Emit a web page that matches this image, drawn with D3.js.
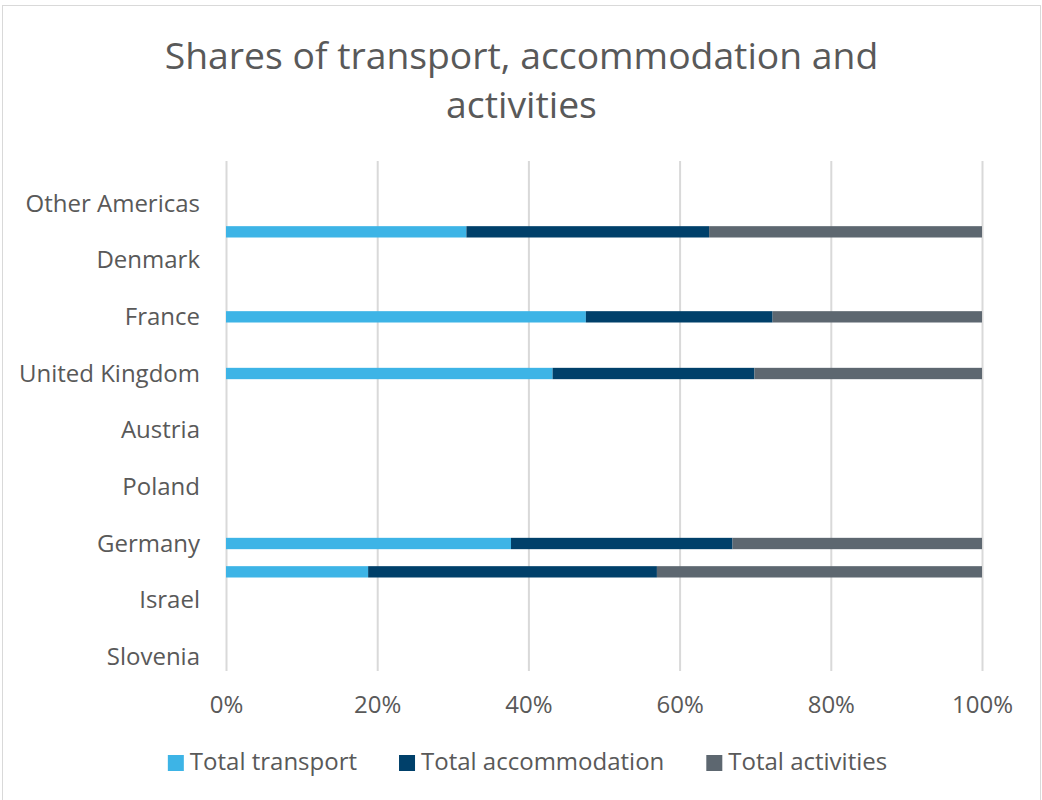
<!DOCTYPE html>
<html>
<head>
<meta charset="utf-8">
<script src="https://cdn.jsdelivr.net/npm/d3@7"></script>
<style>
  html, body { margin: 0; padding: 0; background: #ffffff; }
  svg { display: block; font-family: "Open Sans", "Noto Sans", sans-serif; }
</style>
</head>
<body>
<svg id="chart" width="1042" height="800"></svg>
<script>
// ---- Data (top-to-bottom order; "" = category whose label is not shown) ----
const categories = ["", "Other Americas", "", "Denmark", "", "France", "", "United Kingdom", "",
                    "Austria", "", "Poland", "", "Germany", "", "Israel", "", "Slovenia"];
const transport     = [null, null, 31.8, null, null, 47.6, null, 43.2, null, null, null, null, null, 37.7, 18.8, null, null, null];
const accommodation = [null, null, 32.1, null, null, 24.7, null, 26.7, null, null, null, null, null, 29.3, 38.2, null, null, null];
const activities    = [null, null, 36.1, null, null, 27.7, null, 30.1, null, null, null, null, null, 33.0, 43.0, null, null, null];
const seriesNames   = ["Total transport", "Total accommodation", "Total activities"];
const seriesColors  = ["#3db4e6", "#00406a", "#5d6770"];
const xTicks        = [0, 0.2, 0.4, 0.6, 0.8, 1.0];
const titleLines    = ["Shares of transport, accommodation and", "activities"];

const svg = d3.select("#chart");
const textColor = "#595959";
const gridColor = "#d9d9d9";

// background + chart border
svg.append("rect").attr("x", 0).attr("y", 0).attr("width", 1042).attr("height", 800).attr("fill", "#fff");
svg.append("rect").attr("x", 2.5).attr("y", 5.5).attr("width", 1038).attr("height", 800)
  .attr("fill", "none").attr("stroke", gridColor).attr("stroke-width", 1);

// title
svg.append("g").selectAll("text").data(titleLines).join("text")
  .attr("x", 521.5).attr("y", (d, i) => 68.5 + i * 49.5)
  .attr("text-anchor", "middle").attr("fill", textColor)
  .style("font-size", "37.3px").text(d => d);

// scales
const plot = { left: 226, right: 982, top: 161, bottom: 671 };
const x = d3.scaleLinear().domain([0, 1]).range([plot.left, plot.right]);
const idx = d3.range(categories.length);
const y = d3.scaleBand().domain(idx).range([plot.top, plot.bottom]).paddingInner(0.6).paddingOuter(0.3);

// gridlines
const grid = d3.axisBottom(x).tickValues(xTicks).tickSize(-(plot.bottom - plot.top)).tickFormat("");
svg.append("g").attr("transform", `translate(0,${plot.bottom})`).call(grid)
  .call(g => g.select(".domain").remove())
  .call(g => g.selectAll("line").attr("stroke", gridColor).attr("stroke-width", 2));

// x tick labels
const xAxis = d3.axisBottom(x).tickValues(xTicks).tickSize(0).tickPadding(0).tickFormat(d3.format(".0%"));
svg.append("g").attr("transform", `translate(0,${plot.bottom})`).call(xAxis)
  .call(g => g.select(".domain").remove())
  .call(g => g.selectAll("text").attr("fill", textColor).attr("dy", null).attr("y", 42)
    .style("font-size", "24px").style("font-family", "'Open Sans', 'Noto Sans', sans-serif"));

// y axis labels
const yAxis = d3.axisLeft(y).tickSize(0).tickPadding(0).tickFormat(i => categories[i]);
svg.append("g").attr("transform", `translate(200,${y.bandwidth() / 2 - y.bandwidth() / 2})`).call(yAxis)
  .call(g => g.select(".domain").remove())
  .call(g => g.selectAll("text").attr("fill", textColor).attr("x", 0).attr("dy", "0.34em")
    .style("font-size", "24px").style("font-family", "'Open Sans', 'Noto Sans', sans-serif"));

// stacked bars
const rows = idx.map(i => ({ i, v: [transport[i], accommodation[i], activities[i]] }))
  .filter(r => r.v[0] !== null);
const barsG = svg.append("g");
rows.forEach(r => {
  const total = d3.sum(r.v);
  let acc = 0;
  r.v.forEach((val, s) => {
    const x0 = acc / total, x1 = (acc + val) / total;
    acc += val;
    barsG.append("rect")
      .attr("x", x(x0)).attr("width", x(x1) - x(x0))
      .attr("y", y(r.i)).attr("height", y.bandwidth())
      .attr("fill", seriesColors[s]);
  });
});

// legend
const legend = svg.append("g");
const items = legend.selectAll("g").data(seriesNames).join("g");
items.append("rect").attr("width", 16).attr("height", 16).attr("y", 755).attr("fill", (d, i) => seriesColors[i]);
items.append("text").attr("x", 22).attr("y", 769.5).attr("fill", textColor)
  .style("font-size", "24px").text(d => d);
let widths = [];
items.each(function () { widths.push(22 + d3.select(this).select("text").node().getComputedTextLength()); });
const gap = 42;
const totalW = d3.sum(widths) + gap * (widths.length - 1);
let cx = 527.5 - totalW / 2;
items.each(function (d, i) { d3.select(this).attr("transform", `translate(${cx},0)`); cx += widths[i] + gap; });
</script>
</body>
</html>
